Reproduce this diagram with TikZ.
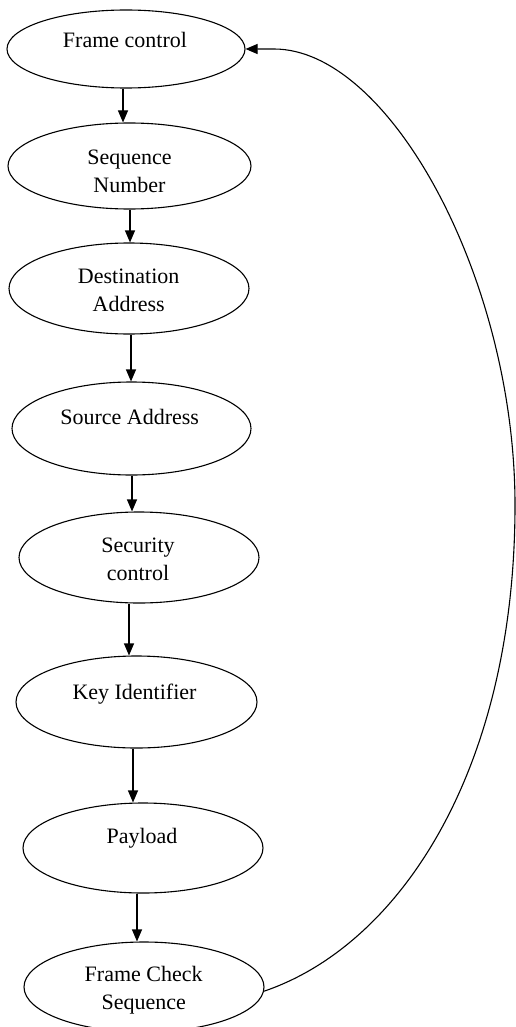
\documentclass[tikz,border=0pt]{standalone}
\usepackage{fontspec}
\setmainfont{Liberation Serif}
\usetikzlibrary{arrows.meta,shapes.geometric}
\begin{document}
\begin{tikzpicture}[x=1pt,y=-1pt,
  fld/.style={draw, ellipse, line width=1.1pt, inner sep=0pt},
  lbl/.style={anchor=base, inner sep=0pt, align=center,
    font=\fontsize{22}{28}\selectfont},
  arw/.style={line width=1.1pt, -{Triangle[length=12pt,width=10pt]}}]
\useasboundingbox (0,0) rectangle (516,1027);
\begin{scope}
\clip (0,0) rectangle (516,1027);

% frame fields
\node[fld, minimum width=238pt, minimum height=78pt] (fc)  at (126,49)    {};
\node[fld, minimum width=243pt, minimum height=86pt] (sn)  at (129.5,166) {};
\node[fld, minimum width=240pt, minimum height=91pt] (da)  at (129,288.5) {};
\node[fld, minimum width=239pt, minimum height=93pt] (sa)  at (131.5,428.5) {};
\node[fld, minimum width=240pt, minimum height=91pt] (sc)  at (139,557.5) {};
\node[fld, minimum width=241pt, minimum height=92pt] (ki)  at (136.5,702) {};
\node[fld, minimum width=240pt, minimum height=90pt] (pl)  at (143,848)   {};
\node[fld, minimum width=240pt, minimum height=90pt] (fcs) at (144,987)   {};

% field names (base anchor sits on the last line)
\node[lbl] (tfc)  at (125,48)    {Frame control};
\node[lbl] (tsn)  at (129.5,193) {Sequence\\Number};
\node[lbl] (tda)  at (128.7,311) {Destination\\Address};
\node[lbl] (tsa)  at (129.7,424) {Source Address};
\node[lbl] (tsc)  at (138,580)   {Security\\control};
\node[lbl] (tki)  at (134.5,699) {Key Identifier};
\node[lbl] (tpl)  at (142,843)   {Payload};
\node[lbl] (tfcs) at (143.7,1009) {Frame Check\\Sequence};

% field order
\draw[arw] ([xshift=-3pt]fc.south) -- ([xshift=-3pt]fc.south |- sn.north);
\draw[arw] ([xshift=0.5pt]sn.south) -- ([xshift=0.5pt]sn.south |- da.north);
\draw[arw] ([xshift=2pt]da.south) -- ([xshift=2pt]da.south |- sa.north);
\draw[arw] ([xshift=0.5pt]sa.south) -- ([xshift=0.5pt]sa.south |- sc.north);
\draw[arw] ([xshift=-10pt]sc.south) -- ([xshift=-10pt]sc.south |- ki.north);
\draw[arw] ([xshift=-3.5pt]ki.south) -- ([xshift=-3.5pt]ki.south |- pl.north);
\draw[arw] ([xshift=-6pt]pl.south) -- ([xshift=-6pt]pl.south |- fcs.north);

% return to the first field
\coordinate (rt) at (515,505);
\coordinate (hook) at (274,49);
\draw[arw] (fcs.-2) .. controls (400,945) and (515,770) .. (rt)
  .. controls (515,280) and (390,49) .. (hook) -- (fc.east);
\end{scope}
\end{tikzpicture}
\end{document}
